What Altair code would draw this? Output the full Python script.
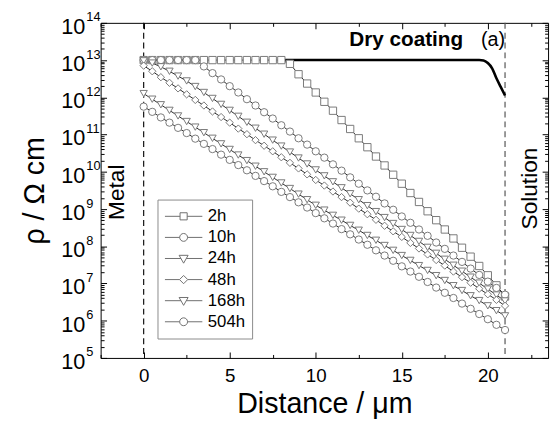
import altair as alt
import pandas as pd

# ---------------- data ----------------
x_um = [0.0, 0.5, 1.0, 1.5, 2.0, 2.5, 3.0, 3.5, 4.0, 4.5, 5.0, 5.5, 6.0, 6.5, 7.0,
        7.5, 8.0, 8.5, 9.0, 9.5, 10.0, 10.5, 11.0, 11.5, 12.0, 12.5, 13.0, 13.5,
        14.0, 14.5, 15.0, 15.5, 16.0, 16.5, 17.0, 17.5, 18.0, 18.5, 19.0, 19.5,
        20.0, 20.5, 21.0]

series_names = ["2h", "10h", "24h", "48h", "168h", "504h"]

# log10(rho / Ohm cm)
log_rho_2h = [13.00, 13.00, 13.00, 13.00, 13.00, 13.00, 13.00, 13.00, 13.00, 13.00,
              13.00, 13.00, 13.00, 13.00, 13.00, 13.00, 13.00, 12.90, 12.62, 12.37,
              12.13, 11.88, 11.64, 11.39, 11.15, 10.90, 10.66, 10.41, 10.17, 9.92,
              9.68, 9.43, 9.19, 8.94, 8.70, 8.45, 8.21, 7.96, 7.72, 7.47, 7.22, 6.95, 6.65]
log_rho_10h = [13.00, 13.00, 13.00, 13.00, 13.00, 13.00, 13.00, 12.83, 12.65, 12.48,
               12.30, 12.13, 11.95, 11.78, 11.60, 11.43, 11.25, 11.08, 10.90, 10.73,
               10.55, 10.38, 10.20, 10.03, 9.85, 9.68, 9.50, 9.33, 9.15, 8.98, 8.80,
               8.63, 8.45, 8.28, 8.10, 7.93, 7.75, 7.58, 7.40, 7.23, 7.05, 6.88, 6.70]
log_rho_24h = [12.98, 12.92, 12.82, 12.70, 12.57, 12.44, 12.29, 12.13, 11.97, 11.81,
               11.65, 11.49, 11.33, 11.17, 11.01, 10.85, 10.69, 10.53, 10.37, 10.21,
               10.05, 9.89, 9.73, 9.57, 9.41, 9.25, 9.09, 8.93, 8.77, 8.61, 8.45,
               8.29, 8.13, 7.97, 7.81, 7.65, 7.49, 7.33, 7.17, 7.01, 6.85, 6.69, 6.53]
log_rho_48h = [12.85, 12.70, 12.54, 12.39, 12.24, 12.08, 11.93, 11.78, 11.62, 11.47,
               11.32, 11.16, 11.01, 10.85, 10.70, 10.55, 10.39, 10.24, 10.09, 9.93,
               9.78, 9.63, 9.47, 9.32, 9.17, 9.01, 8.86, 8.71, 8.55, 8.40, 8.25,
               8.09, 7.94, 7.78, 7.63, 7.48, 7.32, 7.17, 7.02, 6.86, 6.71, 6.56, 6.40]
log_rho_168h = [12.10, 11.95, 11.80, 11.65, 11.50, 11.35, 11.20, 11.05, 10.90, 10.75,
                10.60, 10.45, 10.30, 10.15, 10.00, 9.85, 9.70, 9.55, 9.40, 9.25,
                9.10, 8.97, 8.83, 8.70, 8.56, 8.43, 8.29, 8.16, 8.02, 7.89, 7.75,
                7.62, 7.48, 7.35, 7.21, 7.08, 6.94, 6.81, 6.67, 6.54, 6.40, 6.27, 6.13]
log_rho_504h = [11.75, 11.61, 11.46, 11.32, 11.18, 11.04, 10.89, 10.75, 10.61, 10.46,
                10.32, 10.18, 10.04, 9.89, 9.75, 9.61, 9.46, 9.32, 9.18, 9.04,
                8.89, 8.75, 8.61, 8.46, 8.32, 8.18, 8.04, 7.89, 7.75, 7.61, 7.46,
                7.32, 7.18, 7.04, 6.89, 6.75, 6.61, 6.46, 6.32, 6.18, 6.04, 5.89, 5.75]

dry_x = [8.0, 19.5, 19.75, 20.0, 20.25, 20.5, 20.75, 21.0]
dry_log_rho = [13.0, 13.0, 12.99, 12.92, 12.78, 12.51, 12.28, 12.05]

boundary_x = [0.0, 21.0]
boundary_color = ["#111111", "#555555"]

y_decades = [5, 6, 7, 8, 9, 10, 11, 12, 13, 14]
x_major = [0, 5, 10, 15, 20]
x_minor = [-2.5, 2.5, 7.5, 12.5, 17.5, 22.5]

annot_text = ["Dry coating", "(a)"]
annot_x = [11.95, 19.6]
annot_log_y = [13.39, 13.39]
side_text = ["Metal", "Solution"]
side_x = [-1.52, 22.45]
side_log_y = [9.45, 9.55]

marker_shapes = ["square", "circle", "triangle-down", "diamond", "triangle-down", "circle"]
legend_paths = [
    "M-1,0H-0.19M0.19,0H1M-0.19,-0.19H0.19V0.19H-0.19Z",
    "M-1,0H-0.21M0.21,0H1M-0.21,0A0.21,0.21,0,1,1,0.21,0A0.21,0.21,0,1,1,-0.21,0Z",
    "M-1,0H-0.143M0.143,0H1M-0.24,-0.17H0.24L0,0.25Z",
    "M-1,0H-0.22M0.22,0H1M-0.22,0L0,-0.22L0.22,0L0,0.22Z",
    "M-1,0H-0.143M0.143,0H1M-0.24,-0.17H0.24L0,0.25Z",
    "M-1,0H-0.21M0.21,0H1M-0.21,0A0.21,0.21,0,1,1,0.21,0A0.21,0.21,0,1,1,-0.21,0Z",
]

# ---------------- tables ----------------
all_series = [log_rho_2h, log_rho_10h, log_rho_24h, log_rho_48h, log_rho_168h, log_rho_504h]
rows = []
for name, vals in zip(series_names, all_series):
    for xv, lv in zip(x_um, vals):
        rows.append({"series": name, "x": xv, "rho": 10 ** lv})
df = pd.DataFrame(rows)

dry_df = pd.DataFrame({"x": dry_x, "rho": [10 ** v for v in dry_log_rho]})
bnd_df = pd.DataFrame({"x": boundary_x, "c": boundary_color})
annot_df = pd.DataFrame({"t": annot_text, "x": annot_x, "rho": [10 ** v for v in annot_log_y]})
side_df = pd.DataFrame({"t": side_text, "x": side_x, "rho": [10 ** v for v in side_log_y]})

FONT = "Liberation Sans"
xs = alt.Scale(domain=[-2.5, 23.5], nice=False, zero=False)
ys = alt.Scale(type="log", domain=[1e5, 1e14], nice=False)

y_major_vals = [float(10 ** e) for e in y_decades]
y_minor_vals = [float(k * 10 ** e) for e in y_decades[:-1] for k in range(2, 10)]


def tick_axis(orient, values, size):
    return alt.Axis(orient=orient, values=values, labels=False, domain=False, ticks=True,
                    tickSize=size, offset=-size, tickColor="black", tickWidth=1,
                    grid=False, title=None, zindex=2)


ax_x_labels = alt.Axis(orient="bottom", values=x_major, ticks=False, domain=False,
                       labelFontSize=19, labelPadding=9, labelColor="black", labelFont=FONT,
                       labelFlush=False, grid=False, title="Distance / μm", titleFontSize=29,
                       titleFont=FONT, titleFontWeight="normal", titleColor="black",
                       titlePadding=4)
ax_y_10 = alt.Axis(orient="left", values=y_major_vals, labelExpr="'10'", ticks=False,
                   domain=False, labelFontSize=22, labelPadding=16, labelAlign="right",
                   labelBaseline="middle", labelOffset=3.5, labelColor="black",
                   labelFont=FONT, labelOverlap=False, labelFlush=False, grid=False,
                   title="ρ / Ω cm", titleFontSize=29, titleFont=FONT,
                   titleFontWeight="normal", titleColor="black", titlePadding=11)
ax_y_exp = alt.Axis(orient="left", values=y_major_vals,
                    labelExpr="'' + round(log(datum.value) / LN10)", ticks=False,
                    domain=False, labelFontSize=13, labelPadding=15, labelAlign="left",
                    labelBaseline="middle", labelOffset=-6, labelColor="black",
                    labelFont=FONT, labelOverlap=False, labelFlush=False, grid=False,
                    title=None)

axis_pairs = [
    (ax_x_labels, ax_y_10),
    (tick_axis("bottom", x_major, 6), ax_y_exp),
    (tick_axis("bottom", x_minor, 3.5), tick_axis("left", y_major_vals, 6)),
    (tick_axis("top", x_major, 6), tick_axis("left", y_minor_vals, 3.5)),
    (tick_axis("top", x_minor, 3.5), tick_axis("right", y_major_vals, 6)),
    (None, tick_axis("right", y_minor_vals, 3.5)),
]

layers = []
for xa, ya in axis_pairs:
    layers.append(
        alt.Chart(df).mark_point(opacity=0).encode(
            x=alt.X("x:Q", scale=xs, axis=xa),
            y=alt.Y("rho:Q", scale=ys, axis=ya),
        )
    )

rules = alt.Chart(bnd_df).mark_rule(strokeDash=[6, 4], strokeWidth=1.2).encode(
    x=alt.X("x:Q", scale=xs, axis=None),
    color=alt.Color("c:N", scale=None),
)

dry = alt.Chart(dry_df).mark_line(color="black", strokeWidth=2.6, interpolate="monotone").encode(
    x=alt.X("x:Q", scale=xs, axis=None),
    y=alt.Y("rho:Q", scale=ys, axis=None),
)

lines = alt.Chart(df).mark_line(color="#111111", strokeWidth=0.9).encode(
    x=alt.X("x:Q", scale=xs, axis=None),
    y=alt.Y("rho:Q", scale=ys, axis=None),
    detail="series:N",
)

points = alt.Chart(df).mark_point(filled=True, fill="white", stroke="#7a7a7a",
                                  strokeWidth=1, opacity=1, size=55).encode(
    x=alt.X("x:Q", scale=xs, axis=None),
    y=alt.Y("rho:Q", scale=ys, axis=None),
    shape=alt.Shape("series:N", scale=alt.Scale(domain=series_names, range=marker_shapes),
                    legend=None),
)

txt_bold = alt.Chart(annot_df.iloc[[0]]).mark_text(
    font=FONT, fontSize=21, fontWeight="bold", align="left", baseline="alphabetic",
    color="black").encode(
    x=alt.X("x:Q", scale=xs, axis=None), y=alt.Y("rho:Q", scale=ys, axis=None), text="t:N")
txt_a = alt.Chart(annot_df.iloc[[1]]).mark_text(
    font=FONT, fontSize=20, align="left", baseline="alphabetic", color="black").encode(
    x=alt.X("x:Q", scale=xs, axis=None), y=alt.Y("rho:Q", scale=ys, axis=None), text="t:N")
txt_side = alt.Chart(side_df).mark_text(
    font=FONT, fontSize=23, angle=270, align="center", baseline="middle",
    color="black").encode(
    x=alt.X("x:Q", scale=xs, axis=None), y=alt.Y("rho:Q", scale=ys, axis=None), text="t:N")

legend_layer = alt.Chart(df).transform_filter("datum.x < -100").mark_point(
    filled=False, color="#333333").encode(
    shape=alt.Shape(
        "series:N",
        scale=alt.Scale(domain=series_names, range=legend_paths),
        legend=alt.Legend(title=None, orient="none", legendX=57.7, legendY=179.3,
                          padding=7, strokeColor="#8a8a8a", fillColor="white",
                          symbolSize=1444, symbolStrokeWidth=1,
                          symbolStrokeColor="#333333", symbolFillColor="white",
                          labelFontSize=17, labelFont=FONT, labelColor="black",
                          labelOffset=5, clipHeight=20, rowPadding=1.4),
    )
)

layers += [rules, dry, lines, points, txt_bold, txt_a, txt_side, legend_layer]

chart = alt.layer(*layers).resolve_axis(
    x="independent", y="independent"
).resolve_scale(shape="independent").properties(
    width=454, height=340,
    padding={"left": 94, "top": 12, "right": 4, "bottom": 67},
    autosize=alt.AutoSizeParams(type="none"),
).configure(font=FONT).configure_view(stroke="black", strokeWidth=1)

chart.save("out.html", embed_options={"renderer": "svg", "actions": False})
